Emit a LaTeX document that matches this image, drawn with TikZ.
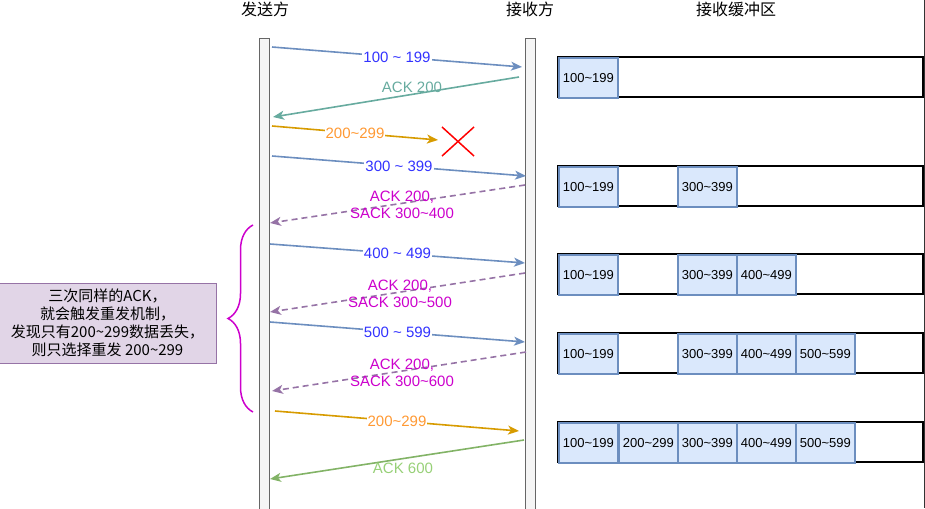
\documentclass[tikz,border=0pt]{standalone}
\usepackage{fontspec}
\setmainfont{Liberation Sans}
\newfontfamily\cjk{Noto Sans CJK SC}
\usetikzlibrary{arrows.meta,decorations.pathreplacing}

\definecolor{segline}{HTML}{6C8EBF}
\definecolor{segtext}{HTML}{3333FF}
\definecolor{ackline}{HTML}{67AB9F}
\definecolor{retxline}{HTML}{D79B00}
\definecolor{retxtext}{HTML}{FF9933}
\definecolor{sackline}{HTML}{9673A6}
\definecolor{sacktext}{HTML}{CC00CC}
\definecolor{okline}{HTML}{82B366}
\definecolor{oktext}{HTML}{97D077}
\definecolor{cellfill}{HTML}{DAE8FC}
\definecolor{notefill}{HTML}{E1D5E7}

\tikzset{
  msg/.style={line width=1.6pt,-{Stealth[length=11pt,width=9pt,inset=3pt]}},
  sackmsg/.style={msg,sackline,dash pattern=on 6pt off 4pt},
  lbl/.style={font=\fontsize{15}{17}\selectfont,inner sep=1pt},
  cell/.style={draw=segline,fill=cellfill,line width=1.6pt,anchor=north west,
    minimum width=59pt,minimum height=40pt,inner sep=0pt,font=\fontsize{13}{15}\selectfont},
  buf/.style={draw,line width=1.6pt},
}

\begin{document}
\begin{tikzpicture}[x=1pt,y=-1pt]
  \useasboundingbox (0,0) rectangle (925,508);

  % headings
  \node[font=\cjk\fontsize{16}{18}\selectfont] (hsnd) at (265,9) {发送方};
  \node[font=\cjk\fontsize{16}{18}\selectfont] (hrcv) at (530,9) {接收方};
  \node[font=\cjk\fontsize{16}{18}\selectfont] (hbuf) at (736,9) {接收缓冲区};

  % lifelines
  \filldraw[draw=black!60,fill=black!4] (259,38) rectangle (269,512);
  \filldraw[draw=black!60,fill=black!4] (525,38) rectangle (535,512);

  \coordinate (s1) at (272,47);  \coordinate (r1) at (522,67);
  \coordinate (r2) at (519,77);  \coordinate (s2) at (273,117);
  \coordinate (s3) at (272,126); \coordinate (lost) at (438,140);
  \coordinate (s4) at (272,156); \coordinate (r4) at (526,176);
  \coordinate (r5) at (525,185); \coordinate (s5) at (270,223);
  \coordinate (s6) at (270,244); \coordinate (r6) at (525,263);
  \coordinate (r7) at (525,273); \coordinate (s7) at (270,312);
  \coordinate (s8) at (270,322); \coordinate (r8) at (525,342);
  \coordinate (r9) at (526,352); \coordinate (s9) at (272,391);
  \coordinate (s10) at (275,411); \coordinate (r10) at (519,431);
  \coordinate (r11) at (524,440); \coordinate (s11) at (270,479);

  \draw[msg,segline] (s1) -- (r1) node[lbl,midway,fill=white,text=segtext] (m1) {100 \textasciitilde{} 199};
  \draw[msg,ackline] (r2) -- (s2);
  \node[lbl,text=ackline] (m2) at (412,87) {ACK 200};
  \draw[msg,retxline] (s3) -- (lost) node[lbl,midway,fill=white,text=retxtext] (m3) {200\textasciitilde299};

  %Lost
  \draw[red,line width=1.5pt] (442,127) -- (474,156) (474,127) -- (442,156);

  \draw[msg,segline] (s4) -- (r4) node[lbl,midway,fill=white,text=segtext] (m4) {300 \textasciitilde{} 399};
  \draw[sackmsg] (r5) -- (s5);
  \node[lbl,align=center,text=sacktext] (m5) at (402,205) {ACK 200,\\SACK 300\textasciitilde400};
  \draw[msg,segline] (s6) -- (r6) node[lbl,midway,fill=white,text=segtext] (m6) {400 \textasciitilde{} 499};
  \draw[sackmsg] (r7) -- (s7);
  \node[lbl,align=center,text=sacktext] (m7) at (400,294) {ACK 200,\\SACK 300\textasciitilde500};
  \draw[msg,segline] (s8) -- (r8) node[lbl,midway,fill=white,text=segtext] (m8) {500 \textasciitilde{} 599};
  \draw[sackmsg] (r9) -- (s9);
  \node[lbl,align=center,text=sacktext] (m9) at (402,373) {ACK 200,\\SACK 300\textasciitilde600};
  \draw[msg,retxline] (s10) -- (r10) node[lbl,midway,fill=white,text=retxtext] (m10) {200\textasciitilde299};
  \draw[msg,okline] (r11) -- (s11);
  \node[lbl,text=oktext] (m11) at (403,468) {ACK 600};

  % note
  \node[draw=sackline,fill=notefill,minimum width=217pt,minimum height=80pt,align=center,
    font=\cjk\fontsize{15}{18}\selectfont] (note) at (107.5,323)
    {三次同样的ACK，\\就会触发重发机制，\\发现只有200\textasciitilde299数据丢失，\\则只选择重发 200\textasciitilde299};
  \draw[sacktext,line width=1.5pt,decorate,decoration={brace,amplitude=25pt}] (253,412) -- (253,225);

  % buffers
  \draw[buf] (558,57) rectangle (923,97);
  \node[cell] (b11) at (558,57) {100\textasciitilde199};

  \draw[buf] (558,166) rectangle (923,206);
  \node[cell] (b21) at (558,166) {100\textasciitilde199};
  \node[cell] (b23) at (677,166) {300\textasciitilde399};

  \draw[buf] (558,254) rectangle (923,294);
  \node[cell] (b31) at (558,254) {100\textasciitilde199};
  \node[cell] (b33) at (677,254) {300\textasciitilde399};
  \node[cell] (b34) at (736,254) {400\textasciitilde499};

  \draw[buf] (558,333) rectangle (923,373);
  \node[cell] (b41) at (558,333) {100\textasciitilde199};
  \node[cell] (b43) at (677,333) {300\textasciitilde399};
  \node[cell] (b44) at (736,333) {400\textasciitilde499};
  \node[cell] (b45) at (795,333) {500\textasciitilde599};

  \draw[buf] (558,422) rectangle (923,462);
  \node[cell] (b51) at (558,422) {100\textasciitilde199};
  \node[cell] (b52) at (618,422) {200\textasciitilde299};
  \node[cell] (b53) at (677,422) {300\textasciitilde399};
  \node[cell] (b54) at (736,422) {400\textasciitilde499};
  \node[cell] (b55) at (795,422) {500\textasciitilde599};

  \draw[black!80,line width=1pt] (924.5,0) -- (924.5,508);

\end{tikzpicture}
\end{document}
